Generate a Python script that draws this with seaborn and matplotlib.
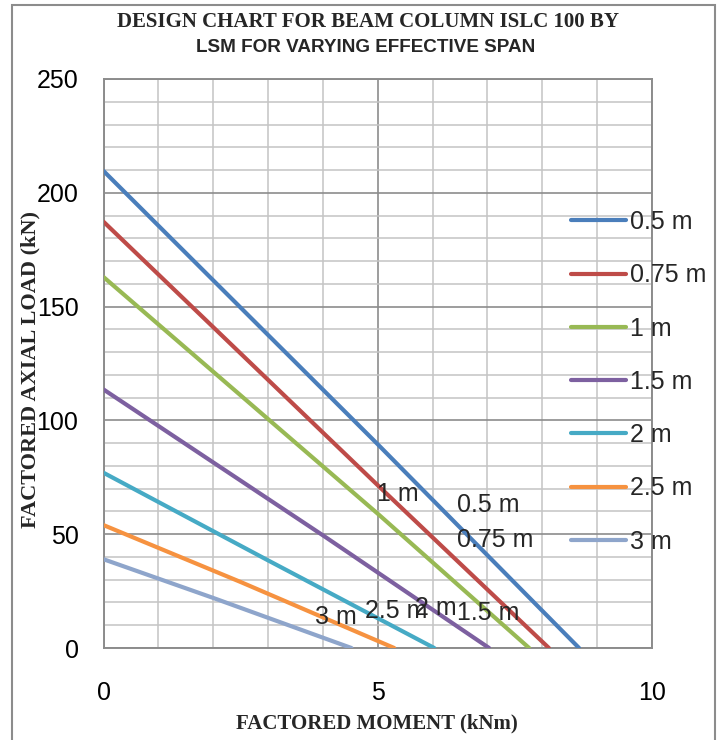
import matplotlib
matplotlib.use("Agg")
import matplotlib.pyplot as plt
from matplotlib.patches import Rectangle
from matplotlib.ticker import MultipleLocator
import numpy as np
import pandas as pd
import seaborn as sns

# Effective span of each design curve
spans = ["0.5 m", "0.75 m", "1 m", "1.5 m", "2 m", "2.5 m", "3 m"]

# Factored moment (kNm) and factored axial load (kN) along each curve
moment_05 = [0.0, 5.0, 8.67]
load_05 = [209.6, 89.5, 0.0]
moment_075 = [0.0, 5.0, 8.12]
load_075 = [187.3, 71.5, 0.0]
moment_1 = [0.0, 5.0, 7.76]
load_1 = [163.0, 59.0, 0.0]
moment_15 = [0.0, 4.0, 7.03]
load_15 = [113.6, 49.5, 0.0]
moment_2 = [0.0, 3.0, 6.03]
load_2 = [77.0, 38.5, 0.0]
moment_25 = [0.0, 2.5, 5.30]
load_25 = [54.0, 29.0, 0.0]
moment_3 = [0.0, 2.0, 4.52]
load_3 = [39.0, 22.0, 0.0]

x_ticks = [0, 5, 10]
y_ticks = [0, 50, 100, 150, 200, 250]

colors = ["#4A7EBB", "#BE4B48", "#98B954", "#7D60A0", "#46AAC5", "#F69240", "#8EA5CB"]

# Data-label anchors (moment, load) for the span names written on the chart
label_pos = {
    "1 m": (4.98, 67.7),
    "0.5 m": (6.44, 62.8),
    "0.75 m": (6.44, 47.5),
    "1.5 m": (6.44, 15.4),
    "2 m": (5.68, 17.6),
    "2.5 m": (4.77, 16.3),
    "3 m": (3.86, 13.6),
}

series = [
    (moment_05, load_05), (moment_075, load_075), (moment_1, load_1),
    (moment_15, load_15), (moment_2, load_2), (moment_25, load_25),
    (moment_3, load_3),
]
frames = []
for name, (m, p) in zip(spans, series):
    frames.append(pd.DataFrame({"moment": m, "load": p, "span": name}))
df = pd.concat(frames, ignore_index=True)

sns.set_style("white")
plt.rcParams["font.family"] = ["Liberation Sans", "DejaVu Sans"]

W, H = 722, 740
fig = plt.figure(figsize=(W / 100, H / 100), dpi=100)
ax = fig.add_axes([103.5 / W, 1 - 648 / H, (652 - 103.5) / W, (648 - 79) / H])

sns.lineplot(data=df, x="moment", y="load", hue="span", hue_order=spans,
             palette=colors, linewidth=3.0, sort=False, estimator=None,
             ax=ax, zorder=3, solid_capstyle="round")

ax.set_xlim(0, 10)
ax.set_ylim(0, 250)
ax.set_xticks(x_ticks)
ax.set_yticks(y_ticks)
ax.xaxis.set_minor_locator(MultipleLocator(1))
ax.yaxis.set_minor_locator(MultipleLocator(10))
ax.grid(which="minor", color="#C4C4C4", linewidth=1.1, zorder=0)
ax.grid(which="major", color="#8C8C8C", linewidth=1.2, zorder=1)
ax.set_axisbelow(True)
for s in ax.spines.values():
    s.set_color("#8C8C8C")
    s.set_linewidth(1.4)
ax.tick_params(axis="both", which="both", length=0, labelsize=18, colors="#000000")
ax.tick_params(axis="x", pad=24)
ax.tick_params(axis="y", pad=18)
ax.set_xlabel("")
ax.set_ylabel("")

# Curve names written next to the lines
for name, (mx, ly) in label_pos.items():
    ax.text(mx, ly, name, fontsize=18, ha="left", va="center", zorder=4)

handles, labels = ax.get_legend_handles_labels()
leg = ax.legend(handles, labels, loc="center left",
                bbox_to_anchor=(571 / W, 1 - 382 / H), bbox_transform=fig.transFigure,
                frameon=False, fontsize=18, handlelength=2.2, handletextpad=0.16,
                labelspacing=1.17, borderpad=0, borderaxespad=0)
for line in leg.get_lines():
    line.set_linewidth(3.0)
    line.set_solid_capstyle("round")

# Titles
fig.text(368 / W, 1 - 22 / H, "DESIGN CHART FOR BEAM COLUMN ISLC 100 BY",
         family=["Liberation Serif", "DejaVu Serif"], weight="bold", fontsize=15,
         ha="center", va="center")
fig.text(366 / W, 1 - 47 / H, "LSM FOR VARYING EFFECTIVE SPAN",
         family=["Liberation Sans Narrow", "Liberation Sans", "DejaVu Sans"],
         weight="bold", fontsize=13.6, ha="center", va="center")
fig.text(377 / W, 1 - 723 / H, "FACTORED MOMENT (kNm)",
         family=["Liberation Serif", "DejaVu Serif"], weight="bold", fontsize=15,
         ha="center", va="center")
fig.text(30 / W, 1 - 370 / H, "FACTORED AXIAL LOAD (kN)",
         family=["Liberation Serif", "DejaVu Serif"], weight="bold", fontsize=16,
         ha="center", va="center", rotation=90)

# Chart-area border
fig.add_artist(Rectangle((12 / W, -0.02), (715 - 12) / W, 1 - 5 / H + 0.02,
                         transform=fig.transFigure, fill=False,
                         edgecolor="#8C8C8C", linewidth=1.5))

fig.savefig("out.png", dpi=100)
